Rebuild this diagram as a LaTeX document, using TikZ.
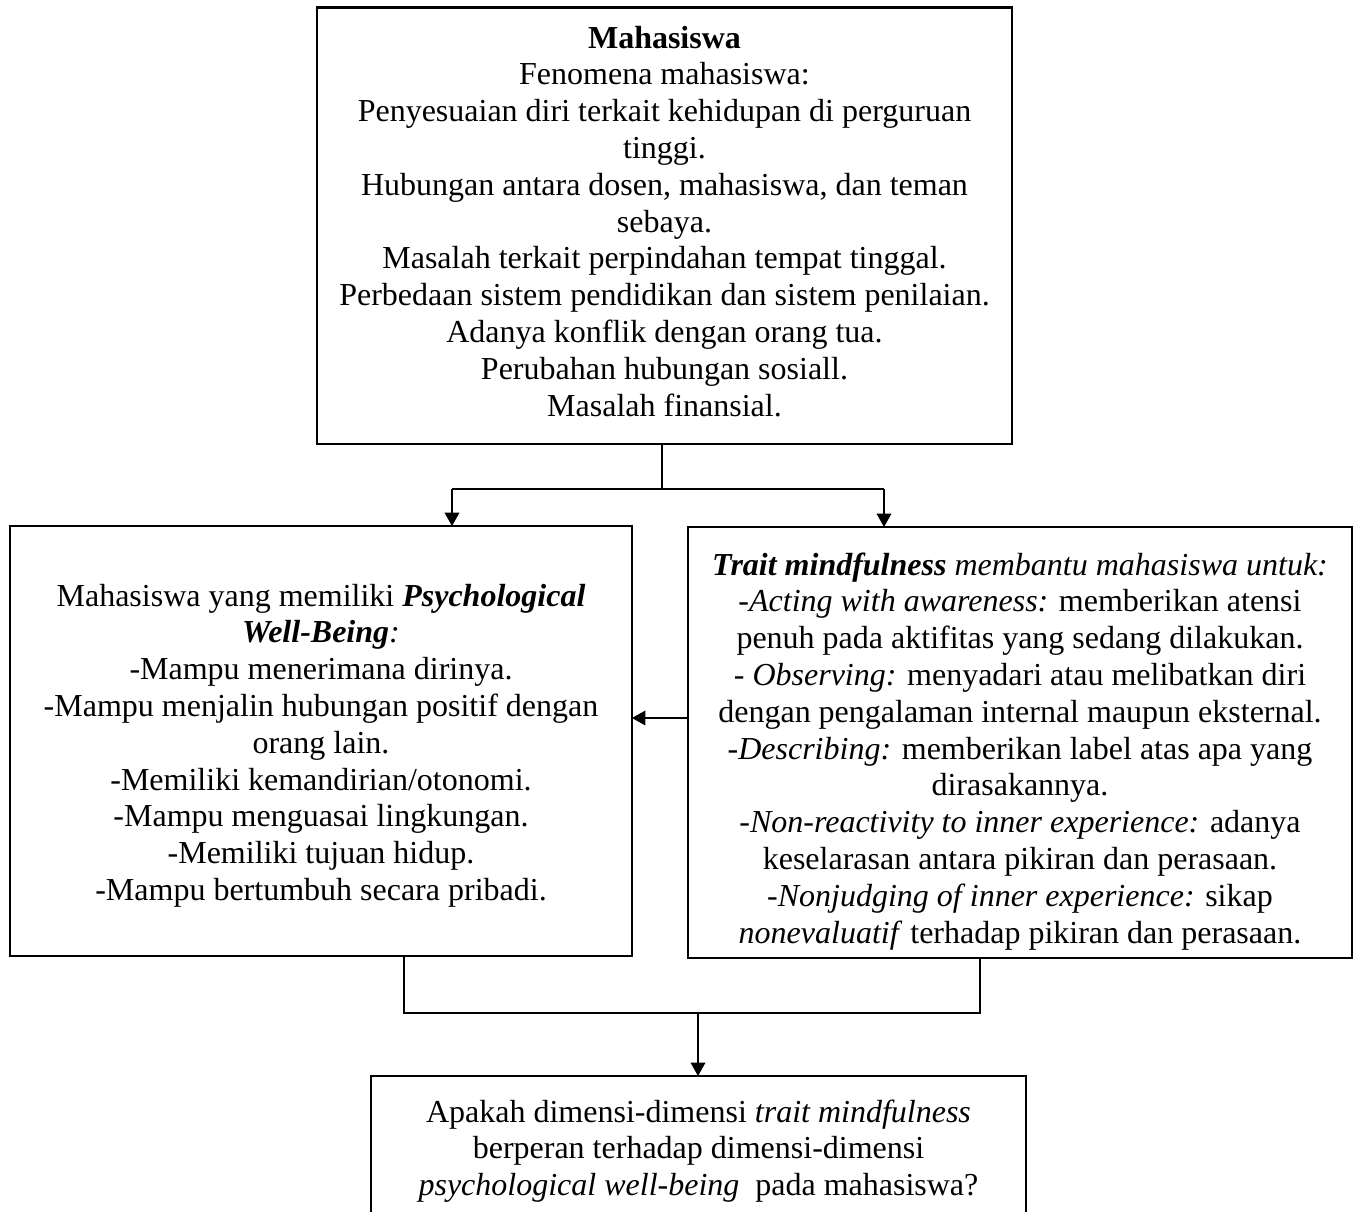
\documentclass[tikz,border=0pt]{standalone}
\usepackage{fontspec}
\setmainfont{Liberation Serif}
\usetikzlibrary{arrows.meta}
\begin{document}
\begin{tikzpicture}[x=0.75pt,y=-0.75pt,
  box/.style={draw,line width=2.2pt,rectangle,inner sep=0pt,outer sep=0pt},
  txt/.style={align=center,inner sep=0pt,anchor=north,font=\fontsize{24}{27.6}\selectfont},
  conn/.style={line width=0.9pt},
  arr/.style={conn,-{Triangle[length=10pt,width=11pt]}}]
\useasboundingbox (0,0) rectangle (1360,1212);
% boxes
\node[box,minimum width=521.25pt,minimum height=327.4pt] (top) at (664.5,225.75) {};
\node[box,minimum width=466.5pt,minimum height=322.5pt] (left) at (321,741) {};
\node[box,minimum width=498pt,minimum height=323.25pt] (right) at (1020,742.5) {};
\node[box,minimum width=491.25pt,minimum height=123pt] (bot) at (698.5,1158) {};
% texts
\node[txt] (toptext) at (664.5,22) {\strut\textbf{Mahasiswa}\\
Fenomena mahasiswa:\\
Penyesuaian diri terkait kehidupan di perguruan\\
tinggi.\\
Hubungan antara dosen, mahasiswa, dan teman\\
sebaya.\\
Masalah terkait perpindahan tempat tinggal.\\
Perbedaan sistem pendidikan dan sistem penilaian.\\
Adanya konflik dengan orang tua.\\
Perubahan hubungan sosiall.\\
Masalah finansial.};
\node[txt] (lefttext) at (321,580) {\strut Mahasiswa yang memiliki \textbf{\textit{Psychological}}\\
\textbf{\textit{Well-Being}}\textit{:}\\
-Mampu menerimana dirinya.\\
-Mampu menjalin hubungan positif dengan\\
orang lain.\\
-Memiliki kemandirian/otonomi.\\
-Mampu menguasai lingkungan.\\
-Memiliki tujuan hidup.\\
-Mampu bertumbuh secara pribadi.};
\node[txt] (righttext) at (1020,549) {\strut\textbf{\textit{Trait mindfulness}} \textit{membantu mahasiswa untuk:}\\
-\textit{Acting with awareness:} memberikan atensi\\
penuh pada aktifitas yang sedang dilakukan.\\
- \textit{Observing:} menyadari atau melibatkan diri\\
dengan pengalaman internal maupun eksternal.\\
-\textit{Describing:} memberikan label atas apa yang\\
dirasakannya.\\
-\textit{Non-reactivity to inner experience:} adanya\\
keselarasan antara pikiran dan perasaan.\\
-\textit{Nonjudging of inner experience:} sikap\\
\textit{nonevaluatif} terhadap pikiran dan perasaan.};
\node[txt] (bottext) at (698.5,1096) {\strut Apakah dimensi-dimensi \textit{trait mindfulness}\\
berperan terhadap dimensi-dimensi\\
\textit{psychological well-being}\ \ pada mahasiswa?};
% connectors top
\coordinate (tj) at (662,489);
\coordinate (ta) at (452,489);
\coordinate (tb) at (884,489);
\draw[conn] (tj |- top.south) -- (tj);
\draw[conn] (ta) -- (tb);
\draw[arr] (ta) -- (ta |- left.north);
\draw[arr] (tb) -- (tb |- right.north);
% middle
\coordinate (mid) at (660,718);
\draw[arr] (mid -| right.west) -- (mid -| left.east);
% bottom
\coordinate (bl) at (404,1013);
\coordinate (br) at (980,1013);
\coordinate (bm) at (698,1013);
\draw[conn] (bl |- left.south) -- (bl) -- (br) -- (br |- right.south);
\draw[arr] (bm) -- (bm |- bot.north);
\end{tikzpicture}
\end{document}
